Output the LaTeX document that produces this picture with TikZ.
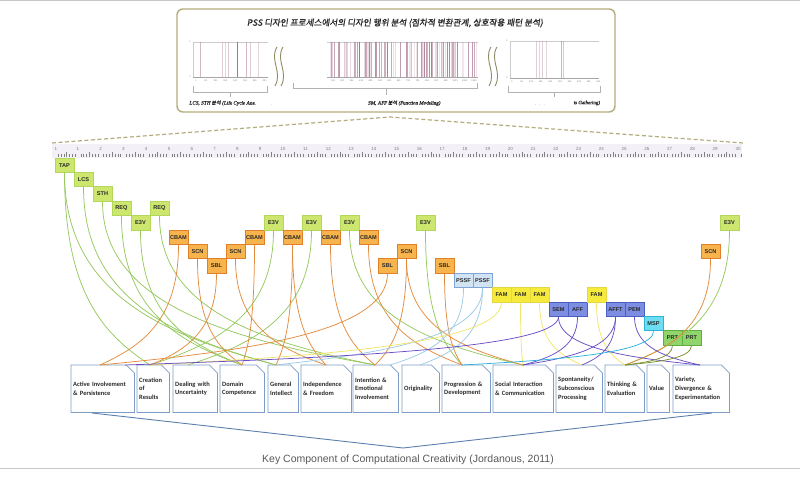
\documentclass[tikz,border=0pt]{standalone}
\usepackage{fontspec}
\setmainfont{Carlito}
\setsansfont{Liberation Sans}
\newfontfamily\krfont{Noto Sans CJK KR}[FakeBold=1.2,FakeSlant=0.15]
\newfontfamily\lblfont{Liberation Serif}[FakeBold=1.2,FakeSlant=0.18]
\usetikzlibrary{calc}

\definecolor{panelc}{HTML}{B3AC7E}
\definecolor{rulerbg}{HTML}{F4F0F8}
\definecolor{evc}{HTML}{A8728E}
\definecolor{gfill}{HTML}{CCE66E}\definecolor{gedge}{HTML}{B2D75A}
\definecolor{ofill}{HTML}{F7B34C}\definecolor{oedge}{HTML}{E2802A}
\definecolor{bfill}{HTML}{D2E4F4}\definecolor{bedge}{HTML}{7DA5D6}
\definecolor{yfill}{HTML}{F6EA3C}\definecolor{yedge}{HTML}{E6D640}
\definecolor{pfill}{HTML}{7C8DE2}\definecolor{pedge}{HTML}{4B5EC2}
\definecolor{cfill}{HTML}{6CDDF2}\definecolor{cedge}{HTML}{2CB4D2}
\definecolor{rfill}{HTML}{90D46C}\definecolor{redge}{HTML}{5FAE42}
\definecolor{gcurve}{HTML}{96C95E}
\definecolor{ocurve}{HTML}{E38B3C}
\definecolor{bcurve}{HTML}{9DCBE6}
\definecolor{ycurve}{HTML}{F2E56A}
\definecolor{pcurve}{HTML}{6A4DC4}
\definecolor{ccurve}{HTML}{2BB3DF}
\definecolor{rcurve}{HTML}{7A8F2E}
\definecolor{boxline}{HTML}{7D9DC6}
\definecolor{bracec}{HTML}{5B7FAE}
\definecolor{txt}{HTML}{2A2A2A}

\tikzset{
  tag/.style={draw, line width=0.8pt, minimum width=19pt, minimum height=14.4pt, inner sep=0pt,
    text=txt, font=\sffamily\bfseries\fontsize{5.6}{5.6}\selectfont},
  gtag/.style={tag, fill=gfill, draw=gedge},
  otag/.style={tag, fill=ofill, draw=oedge},
  btag/.style={tag, fill=bfill, draw=bedge},
  ytag/.style={tag, fill=yfill, draw=yedge},
  ptag/.style={tag, fill=pfill, draw=pedge},
  ctag/.style={tag, fill=cfill, draw=cedge},
  rtag/.style={tag, fill=rfill, draw=redge},
  comp/.style={anchor=north west, minimum height=47pt, inner xsep=2pt, inner ysep=0pt,
    align=left, text=txt, font=\bfseries\fontsize{6.5}{8.6}\selectfont},
  gline/.style={draw=gcurve, line width=0.75pt},
  oline/.style={draw=ocurve, line width=0.75pt},
  bline/.style={draw=bcurve, line width=0.75pt},
  yline/.style={draw=ycurve, line width=0.75pt},
  pline/.style={draw=pcurve, line width=0.75pt},
  cline/.style={draw=ccurve, line width=0.75pt},
  rline/.style={draw=rcurve, line width=0.75pt},
  evline/.style={draw=evc, line width=0.5pt},
  tinynum/.style={font=\sffamily\fontsize{2.4}{2.4}\selectfont, text=gray, inner sep=0pt}
}

% curve from a tag down to a point on a component box
\newcommand\lnk[3]{\draw[#1] let \p1=(#2.south), \p2=(#3) in
  (\p1) .. controls (\x1,{\y2+0.35*(\y1-\y2)}) and ({\x2+0.5*(\x1-\x2)},{\y2+0.15*(\y1-\y2)}) .. (\p2);}

\begin{document}
\begin{tikzpicture}[x=1pt,y=-1pt]
\useasboundingbox (0,0) rectangle (800,478);
\draw[gray!45, line width=1pt] (0,0.8) -- (800,0.8) (0,468) -- (800,468);

% top panel with the three sequence charts
\draw[panelc, line width=1.4pt, rounded corners=6pt] (177,9) rectangle (615,112);
\node[font=\krfont\fontsize{8.6}{9}\selectfont, text=txt] (title) at (395,23)
  {PSS 디자인 프로세스에서의 디자인 행위 분석 (점차적 변환관계, 상호작용 패턴 분석)};

\draw[gray!40, line width=0.4pt] (193,42) -- (268,42) (193,42) -- (193,77);
\draw[gray!70, line width=0.6pt] (193,77) -- (268,77);
\foreach \p/\o in {200/.5,222/.35,225/.3,228/.4,237/1,246/.5,250/.35,258/.3}
  \draw[evline, opacity=\o] (\p,42) -- (\p,77);
\node[tinynum] at (190,42) {1};
\node[tinynum] at (190,77) {0};
\foreach \v [count=\k from 0] in {1,61,121,181,241,301,361,421}
  \node[tinynum] at ({196+9.8*\k},81) {\v};

\draw[gray!40, line width=0.4pt] (327,42) -- (478,42);
\draw[gray!70, line width=0.6pt] (327,77) -- (478,77);
\pgfmathsetseed{17}
\foreach \i in {1,...,95}{
  \pgfmathsetmacro\px{329+147*rnd}
  \pgfmathsetmacro\po{0.15+0.6*rnd}
  \draw[evline, opacity=\po] (\px,42) -- (\px,77);
}
\foreach \v [count=\k from 0] in {241,301,361,421,481,541,601,661,721,781,841,901,961,1021,1081,1141}
  \node[tinynum] at ({333+9.4*\k},81) {\v};

\draw[gray!40, line width=0.4pt] (510,41) -- (599,41) (510,41) -- (510,78);
\draw[gray!70, line width=0.6pt] (510,78) -- (599,78);
\foreach \p/\o in {536/.35,539/.3,542/.35,546/.3,561/.55,563/.4}
  \draw[evline, opacity=\o] (\p,41) -- (\p,78);
\node[tinynum] at (507,41) {1};
\node[tinynum] at (507,78) {0};
\foreach \v [count=\k from 0] in {1,61,121,181,241,301,361,421,481,541}
  \node[tinynum] at ({512+9.6*\k},82) {\v};

% break marks
\foreach \s in {275,281,489,495}
  \draw[panelc!80!black, line width=0.9pt] (\s+2,47) .. controls (\s-6,60) and (\s+8,72) .. (\s,86);

% braces and chart captions
\draw[gray!60, line width=0.5pt] (193,86) -- (193,92) -- (267,92) -- (267,86) (230,92) -- (230,97);
\draw[gray!60, line width=0.5pt] (293,83) -- (293,88) -- (477,88) -- (477,83) (386,88) -- (386,95);
\draw[gray!60, line width=0.5pt] (508,86) -- (508,92) -- (600,92) -- (600,86) (554,92) -- (554,97);
\node[anchor=west, inner sep=0pt, text=txt, font=\lblfont\fontsize{5}{5}\selectfont] (capa) at (189,103)
  {LCS, STH {\krfont 분석} (Life Cycle Ana.};
\node[inner sep=0pt, text=gray, font=\fontsize{5}{5}\selectfont] at (272,105) {.};
\node[inner sep=0pt, text=txt, font=\lblfont\fontsize{5}{5}\selectfont] (capb) at (404,103)
  {SM, AFF {\krfont 분석} (Function Modeling)};
\node[inner sep=0pt, text=gray, font=\fontsize{5}{5}\selectfont] at (540,105) {.\hspace{3pt}.\hspace{3pt}.};
\node[anchor=east, inner sep=0pt, text=txt, font=\lblfont\fontsize{5}{5}\selectfont] (capc) at (600,103)
  {ts Gathering)};

% zoom lines to the ruler
\draw[panelc, line width=1.2pt, dash pattern=on 4pt off 2.5pt] (52,143) -- (390,117) -- (743,143);

% ruler
\fill[rulerbg] (52,144) rectangle (742,158);
\foreach \i in {0,...,241}{
  \pgfmathtruncatemacro\m{mod(\i,8)}
  \pgfmathtruncatemacro\h{mod(\i,4)}
  \ifnum\m=0\relax\else
    \ifnum\h=0\relax \draw[gray, line width=0.4pt] ({55.2+2.845*\i},152) -- ({55.2+2.845*\i},157);
    \else \draw[gray, line width=0.4pt] ({55.2+2.845*\i},154) -- ({55.2+2.845*\i},157); \fi
  \fi
}
\node[font=\sffamily\fontsize{4.5}{4.5}\selectfont, text=gray, inner sep=0pt] at (56,148.5) {1};
\foreach \k in {1,...,30}
  \node[font=\sffamily\fontsize{4.5}{4.5}\selectfont, text=gray, inner sep=0pt] at ({55.2+22.76*\k},148.5) {\k};

% coded actions in the timeline
\foreach \c/\r/\t/\s/\n in {
  0/0/TAP/gtag/tap, 1/1/LCS/gtag/lcs, 2/2/STH/gtag/sth, 3/3/REQ/gtag/reqa, 4/4/E3V/gtag/eva,
  5/3/REQ/gtag/reqb, 6/5/CBAM/otag/cba, 7/6/SCN/otag/sca, 8/7/SBL/otag/sba, 9/6/SCN/otag/scb,
  10/5/CBAM/otag/cbb, 11/4/E3V/gtag/evb, 12/5/CBAM/otag/cbc, 13/4/E3V/gtag/evc, 14/5/CBAM/otag/cbd,
  15/4/E3V/gtag/evd, 16/5/CBAM/otag/cbe, 17/7/SBL/otag/sbb, 18/6/SCN/otag/scc, 19/4/E3V/gtag/eve,
  20/7/SBL/otag/sbc, 21/8/PSSF/btag/psa, 22/8/PSSF/btag/psb, 23/9/FAM/ytag/fma, 24/9/FAM/ytag/fmb,
  25/9/FAM/ytag/fmc, 26/10/SEM/ptag/sem, 27/10/AFF/ptag/aff, 28/9/FAM/ytag/fmd, 29/10/AFFT/ptag/aft,
  30/10/PEM/ptag/pem, 31/11/MSP/ctag/msp, 32/12/PRT/rtag/pra, 33/12/PRT/rtag/prb, 34/6/SCN/otag/scd,
  35/4/E3V/gtag/evf}
  \node[\s] (\n) at ({64.5+19*\c},{165.2+14.4*\r}) {\t};

% key components
\foreach \x/\w/\n/\t [evaluate=\w as \tw using \w-4] in {
  71/63/act/{Active Involvement\\\& Persistence}, 137/32/cre/{Creation\\of\\Results},
  173/44/dea/{Dealing with\\Uncertainty}, 220/44/dom/{Domain\\Competence},
  268/30/gen/{General\\Intellect}, 301/50/ind/{Independence\\\& Freedom},
  353/45/int/{Intention \&\\Emotional\\Involvement}, 402/37/ori/{Originality},
  442/48/pro/{Progression \&\\Development}, 493/60/soc/{Social Interaction\\\& Communication},
  556/46/spo/{Spontaneity/\\Subconscious\\Processing}, 605/39/thi/{Thinking \&\\Evaluation},
  647/22/val/{Value}, 673/56/var/{Variety,\\Divergence \&\\Experimentation}}
  \node[comp, minimum width=\w pt, text width=\tw pt] (\n) at (\x,365) {\t};
\foreach \n in {act,cre,dea,dom,gen,ind,int,ori,pro,soc,spo,thi,val,var}
  \draw[boxline, line width=0.8pt] (\n.north west) -- ([xshift=-8pt]\n.north east)
    -- ([yshift=-8pt]\n.north east) -- (\n.south east) -- (\n.south west) -- cycle;

% where the curves land
\foreach \n/\x in {act/100, actb/125, cre/150, dea/188, dom/242, gen/276, ind/326, int/375,
  intb/390, ori/420, pro/462, soc/523, spo/582, thi/625, val/658, var/700}
  \coordinate (\n-in) at (\x,365);

% links
\foreach \a/\b in {tap/cre, tap/gen, lcs/gen, sth/int, reqa/dom, eva/dom, reqb/int,
  evb/cre, evc/dea, evd/soc, eve/pro, evf/thi}
  {\lnk{gline}{\a}{\b-in}}
\foreach \a/\b in {cba/act, sca/dom, sba/cre, scb/ind, cbb/dom, cbc/gen, cbc/ind, cbd/int,
  cbe/pro, sbb/act, scc/int, scc/soc, sbc/pro, scd/thi}
  {\lnk{oline}{\a}{\b-in}}
\foreach \a/\b in {psa/intb, psb/ori, psb/gen}
  {\lnk{bline}{\a}{\b-in}}
\foreach \a/\b in {fma/cre, fmb/soc, fmc/spo, fmd/thi}
  {\lnk{yline}{\a}{\b-in}}
\foreach \a/\b in {sem/actb, sem/var, aff/soc, aft/spo, aft/soc, pem/var}
  {\lnk{pline}{\a}{\b-in}}
\lnk{cline}{msp}{pro-in}
\foreach \a in {pra, prb}
  {\lnk{rline}{\a}{thi-in}}

% bracket and caption
\draw[bracec, line width=0.9pt] (92,413) -- (403,448) -- (712,413);
\node[font=\sffamily\fontsize{10.5}{11}\selectfont, text=black!65] (caption) at (408,460)
  {Key Component of Computational Creativity (Jordanous, 2011)};
\end{tikzpicture}
\end{document}
